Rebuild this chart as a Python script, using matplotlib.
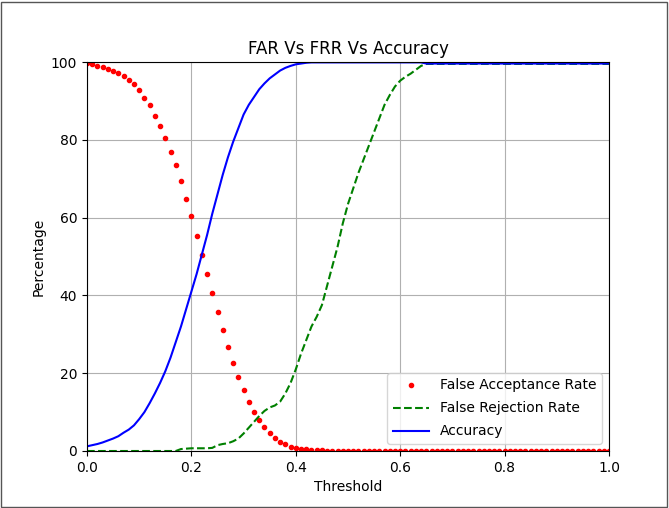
import numpy as np
import matplotlib
matplotlib.use("Agg")
import matplotlib.pyplot as plt
from matplotlib.patches import Rectangle

# thresholds 0.00 .. 1.00 step 0.01
thresholds = np.round(np.arange(0, 101) / 100.0, 2)

far = [99.7, 99.4, 99.1, 98.6, 98.2, 97.8, 97.3, 96.4, 95.3, 94.3,
       92.7, 90.7, 88.9, 86.1, 83.5, 80.5, 76.9, 73.4, 69.4, 64.8,
       60.4, 55.3, 50.5, 45.4, 40.5, 35.7, 31.0, 26.7, 22.6, 19.1,
       15.6, 12.6, 10.1, 8.0, 6.1, 4.7, 3.4, 2.4, 1.8, 1.1,
       0.8, 0.5, 0.4, 0.3, 0.2, 0.2, 0.1, 0.1, 0.1, 0.1] + [0.0] * 51

frr = [0.0] * 18 + [0.5, 0.6, 0.7, 0.7, 0.7, 0.7, 0.8, 1.5, 1.8, 2.0,
       2.5, 3.2, 4.5, 6.0, 7.5, 9.0, 10.3, 11.2, 11.7, 12.7,
       14.8, 17.5, 21.0, 25.0, 28.5, 32.0, 34.5, 37.5, 42.5, 47.5,
       52.5, 58.5, 63.5, 67.5, 71.5, 75.0, 78.5, 82.0, 85.5, 89.0,
       91.5, 93.7, 95.2, 96.2, 97.0, 98.0, 99.0] + [99.5] * 36

accuracy = [1.2, 1.5, 1.8, 2.2, 2.7, 3.2, 3.8, 4.7, 5.5, 6.6,
            8.2, 10.0, 12.3, 14.8, 17.5, 20.5, 24.0, 28.0, 32.0, 36.5,
            41.0, 45.5, 50.5, 55.5, 61.0, 66.0, 71.0, 75.5, 79.5, 83.0,
            86.5, 89.0, 91.0, 93.0, 94.5, 95.8, 96.8, 97.8, 98.5, 99.0,
            99.4, 99.6, 99.8] + [99.9] * 22 + [99.6] * 36

fig = plt.figure(figsize=(6.69, 5.08), dpi=100)
ax = fig.add_axes([87 / 669, 1 - 451 / 508, 522 / 669, 389 / 508])

ax.plot(thresholds, far, 'r.', label='False Acceptance Rate')
ax.plot(thresholds, frr, 'g--', label='False Rejection Rate')
ax.plot(thresholds, accuracy, 'b-', label='Accuracy')

ax.set_xlim(0, 1)
ax.set_ylim(0, 100)
ax.set_xlabel('Threshold')
ax.set_ylabel('Percentage')
ax.set_title('FAR Vs FRR Vs Accuracy')
ax.grid(True)
ax.legend(loc='lower right', handlelength=2.6, labelspacing=0.65)

# screenshot frame
fig.patches.append(Rectangle((0.002, 0.002), 0.995, 0.995, transform=fig.transFigure,
                             fill=False, edgecolor='#555555', linewidth=1))

fig.savefig('out.png', dpi=100)
